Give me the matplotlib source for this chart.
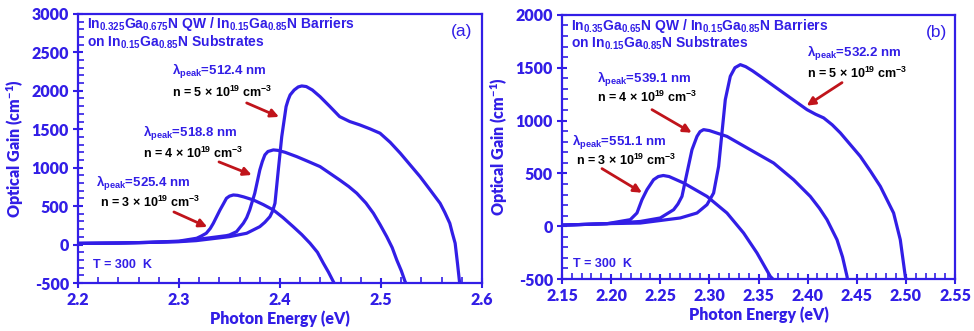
import matplotlib
matplotlib.use("Agg")
import matplotlib.pyplot as plt
from matplotlib.ticker import MultipleLocator, FormatStrFormatter

#%% Data

# panel (a): In0.325Ga0.675N QW
e_a3 = [2.20, 2.24, 2.27, 2.30, 2.3175, 2.322, 2.327, 2.331, 2.334, 2.3406, 2.344, 2.347, 2.350, 2.3538, 2.358,
        2.364, 2.3736, 2.3834, 2.3934, 2.403, 2.413, 2.4215, 2.4297, 2.437, 2.4429, 2.448, 2.4528, 2.4535]
g_a3 = [15, 20, 28, 45, 82, 110, 147, 210, 277, 450, 530, 602, 630, 645, 640,
        620, 580, 520, 450, 350, 233, 130, 17, -100, -243, -360, -483, -500]

e_a4 = [2.20, 2.24, 2.27, 2.30, 2.327, 2.347, 2.350, 2.357, 2.3637, 2.367, 2.370, 2.375, 2.380, 2.3825, 2.385,
        2.388, 2.3934, 2.398, 2.405, 2.4165, 2.428, 2.4396, 2.449, 2.459, 2.468, 2.476, 2.485, 2.4924, 2.499,
        2.5056, 2.511, 2.5155, 2.520, 2.5238, 2.5245]
g_a4 = [15, 20, 28, 40, 82, 116, 125, 168, 277, 350, 450, 667, 970, 1080, 1166,
        1210, 1231, 1225, 1200, 1144, 1080, 1014, 930, 840, 755, 667, 540, 407, 260,
        103, -40, -200, -340, -483, -500]

e_a5 = [2.20, 2.24, 2.27, 2.301, 2.317, 2.350, 2.367, 2.380, 2.385, 2.390, 2.3925, 2.395, 2.3983, 2.4017,
        2.406, 2.408, 2.410, 2.414, 2.418, 2.4215, 2.426, 2.432, 2.4396, 2.449, 2.459, 2.469, 2.479, 2.489,
        2.499, 2.509, 2.519, 2.5386, 2.548, 2.5584, 2.563, 2.568, 2.5705, 2.5733, 2.5756, 2.5776, 2.578]
g_a5 = [15, 20, 28, 38, 51, 103, 147, 233, 290, 363, 430, 537, 970, 1404,
        1794, 1880, 1946, 2010, 2050, 2063, 2055, 2010, 1924, 1800, 1664, 1600, 1556, 1505,
        1448, 1330, 1188, 883, 720, 537, 420, 277, 150, 17, -243, -483, -500]

# panel (b): In0.35Ga0.65N QW
e_b3 = [2.15, 2.1958, 2.2195, 2.2263, 2.2314, 2.2365, 2.2432, 2.248, 2.2531, 2.259, 2.2738, 2.2976, 2.3179,
        2.3348, 2.3485, 2.362, 2.3646]
g_b3 = [10, 24, 62, 125, 251, 346, 440, 470, 480, 470, 409, 282, 125,
        -64, -254, -475, -500]

e_b4 = [2.15, 2.1958, 2.2297, 2.250, 2.2636, 2.268, 2.2721, 2.2772, 2.2823, 2.2874, 2.2905, 2.2941, 2.300,
        2.3179, 2.3416, 2.3654, 2.3857, 2.4027, 2.412, 2.4197, 2.4299, 2.4355, 2.4401, 2.4405]
g_b4 = [10, 24, 45, 78, 156, 210, 282, 504, 724, 850, 895, 914, 905,
        850, 724, 598, 440, 282, 170, 62, -128, -290, -475, -500]

e_b5 = [2.15, 2.1958, 2.2297, 2.2704, 2.2874, 2.2976, 2.3043, 2.3094, 2.3128, 2.3162, 2.3213, 2.326, 2.3315,
        2.337, 2.344, 2.3518, 2.3755, 2.3994, 2.408, 2.4163, 2.425, 2.4333, 2.4536, 2.464, 2.474, 2.4875,
        2.4943, 2.4994, 2.5002]
g_b5 = [10, 24, 30, 78, 125, 204, 314, 566, 883, 1198, 1419, 1500, 1529,
        1510, 1470, 1419, 1261, 1103, 1060, 1025, 960, 883, 661, 520, 377, 125,
        -128, -475, -500]

peaks_a = ["525.4", "518.8", "512.4"]
peaks_b = ["551.1", "539.1", "532.2"]
dens = ["3", "4", "5"]

#%% Style

BLUE = "#321EE6"
RED = "#C0141B"
TICKFONT = "Lato"
TEXTFONT = "Liberation Sans"

plt.rcParams["mathtext.fontset"] = "custom"
plt.rcParams["mathtext.rm"] = "Liberation Sans"
plt.rcParams["mathtext.bf"] = "Liberation Sans:bold"
plt.rcParams["mathtext.default"] = "bf"
plt.rcParams["axes.unicode_minus"] = False

fig = plt.figure(figsize=(9.74, 3.31), dpi=100)
ax_a = fig.add_axes([0.080, 0.145, 0.415, 0.813])
ax_b = fig.add_axes([0.577, 0.157, 0.4035, 0.798])


def style_axes(ax, xlim, xmaj, xmin, xfmt, ylim):
    ax.set_xlim(*xlim)
    ax.set_ylim(*ylim)
    ax.xaxis.set_major_locator(MultipleLocator(xmaj))
    ax.xaxis.set_minor_locator(MultipleLocator(xmin))
    ax.xaxis.set_major_formatter(FormatStrFormatter(xfmt))
    ax.yaxis.set_major_locator(MultipleLocator(500))
    ax.yaxis.set_minor_locator(MultipleLocator(100))
    for s in ax.spines.values():
        s.set_color(BLUE)
        s.set_linewidth(1.6)
    ax.tick_params(which="major", direction="inout", length=7, width=1.5, color=BLUE,
                   labelcolor=BLUE, labelsize=11.5, pad=3)
    ax.tick_params(which="minor", direction="in", length=4, width=1.2, color=BLUE)
    for lab in ax.get_xticklabels() + ax.get_yticklabels():
        lab.set_fontfamily(TICKFONT)
        lab.set_fontweight("heavy")
    ax.set_xlabel("Photon Energy (eV)", color=BLUE, fontsize=11.5, fontweight="heavy",
                  family=TICKFONT, labelpad=2)
    ax.set_ylabel("Optical Gain (cm$^{\\mathregular{-1}}$)", color=BLUE, fontsize=11.5,
                  fontweight="heavy", family=TICKFONT, labelpad=4)


style_axes(ax_a, (2.2, 2.6), 0.1, 0.02, "%.1f", (-500, 3000))
style_axes(ax_b, (2.15, 2.55), 0.05, 0.01, "%.2f", (-500, 2000))

for e, g in [(e_a3, g_a3), (e_a4, g_a4), (e_a5, g_a5)]:
    ax_a.plot(e, g, color=BLUE, lw=2.3, solid_joinstyle="round", solid_capstyle="round")
for e, g in [(e_b3, g_b3), (e_b4, g_b4), (e_b5, g_b5)]:
    ax_b.plot(e, g, color=BLUE, lw=2.3, solid_joinstyle="round", solid_capstyle="round")

#%% Text

ax_a.text(0.022, 0.963, "In$_{0.325}$Ga$_{0.675}$N QW / In$_{0.15}$Ga$_{0.85}$N Barriers",
          transform=ax_a.transAxes, color=BLUE, fontsize=10, fontweight="bold",
          family=TEXTFONT, va="center")
ax_a.text(0.022, 0.896, "on In$_{0.15}$Ga$_{0.85}$N Substrates",
          transform=ax_a.transAxes, color=BLUE, fontsize=10, fontweight="bold",
          family=TEXTFONT, va="center")
ax_b.text(0.023, 0.958, "In$_{0.35}$Ga$_{0.65}$N QW / In$_{0.15}$Ga$_{0.85}$N Barriers",
          transform=ax_b.transAxes, color=BLUE, fontsize=10, fontweight="bold",
          family=TEXTFONT, va="center")
ax_b.text(0.023, 0.894, "on In$_{0.15}$Ga$_{0.85}$N Substrates",
          transform=ax_b.transAxes, color=BLUE, fontsize=10, fontweight="bold",
          family=TEXTFONT, va="center")

ax_a.text(0.95, 0.933, "(a)", transform=ax_a.transAxes, color=BLUE, fontsize=12.5,
          family=TEXTFONT, ha="center", va="center")
ax_b.text(0.954, 0.932, "(b)", transform=ax_b.transAxes, color=BLUE, fontsize=12.5,
          family=TEXTFONT, ha="center", va="center")

ax_a.text(2.215, -265, "T = 300  K", color=BLUE, fontsize=9, fontweight="bold",
          family=TEXTFONT, va="center")
ax_b.text(2.161, -355, "T = 300  K", color=BLUE, fontsize=9, fontweight="bold",
          family=TEXTFONT, va="center")

# label positions (left x, lambda line y, n line x, n line y) and arrows (tail, head)
lab_a = [(2.218, 788, 2.222, 554), (2.264, 1439, 2.264, 1192), (2.293, 2245, 2.293, 1985)]
arr_a = [((2.295, 424), (2.328, 229)), ((2.3396, 1075), (2.372, 905)), ((2.367, 1842), (2.399, 1660))]
lab_b = [(2.160, 791, 2.164, 620), (2.1856, 1387, 2.1856, 1217), (2.3994, 1634, 2.3994, 1444)]
arr_b = [((2.1907, 545), (2.2314, 317)), ((2.2416, 1103), (2.282, 885)), ((2.435, 1359), (2.399, 1141))]

for ax, peaks, labs, arrs in [(ax_a, peaks_a, lab_a, arr_a), (ax_b, peaks_b, lab_b, arr_b)]:
    for pk, d, (lx, ly, nx, ny), (tail, head) in zip(peaks, dens, labs, arrs):
        ax.text(lx, ly, "λ$_{peak}$=" + pk + " nm", color=BLUE, fontsize=9.5,
                fontweight="bold", family=TEXTFONT, va="center")
        ax.text(nx, ny, "n = " + d + " × 10$^{19}$ cm$^{-3}$", color="black", fontsize=9,
                fontweight="bold", family=TEXTFONT, va="center")
        ax.annotate("", xy=head, xytext=tail,
                    arrowprops=dict(arrowstyle="-|>", color=RED, lw=2, mutation_scale=12,
                                    shrinkA=0, shrinkB=0))

fig.savefig("out.png", dpi=100)
